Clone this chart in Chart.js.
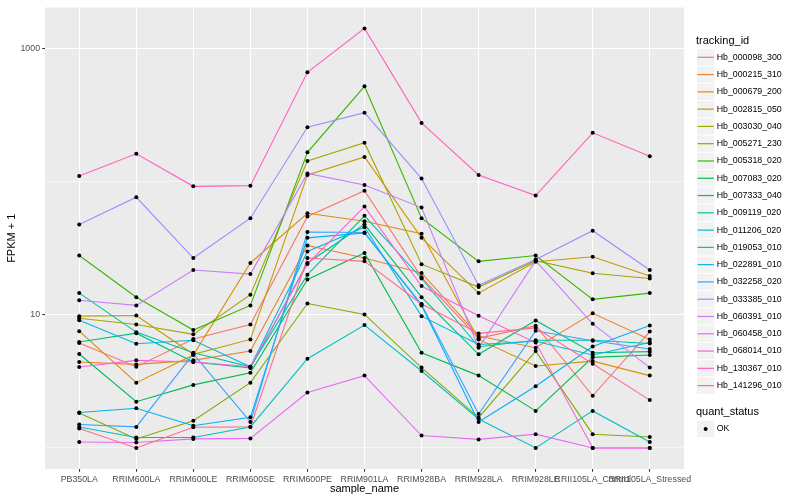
<!DOCTYPE html>
<html>
<head>
<meta charset="utf-8">
<script src="https://cdn.jsdelivr.net/npm/chart.js@4/dist/chart.umd.min.js"></script>
<style>
html, body { margin: 0; padding: 0; background: #fff; }
</style>
</head>
<body>
<canvas id="fpkmChart" width="800" height="500"></canvas>
<script>
// sample names (x axis)
var samples = ['PB350LA', 'RRIM600LA', 'RRIM600LE', 'RRIM600SE', 'RRIM600PE', 'RRIM901LA',
               'RRIM928BA', 'RRIM928LA', 'RRIM928LE', 'RRII105LA_Control', 'RRII105LA_Stressed'];

// FPKM + 1 per gene, one value per sample
var hb000098 = [6.15, 4.08, 6.6, 8.49, 55, 86, 19.2, 6.67, 8.3, 2.47, 7.5];
var hb000215 = [4.43, 4.25, 4.56, 5.35, 33.3, 26.8, 20.7, 6.95, 5.67, 10.3, 6.55];
var hb000679 = [7.56, 3.10, 5.0, 24.6, 58.2, 50.7, 40.8, 6.55, 4.13, 4.5, 3.5];
var hb002815 = [9.8, 9.9, 5.06, 6.55, 113, 154, 38, 14.6, 25.1, 27.4, 19.6];
var hb003030 = [9.46, 8.49, 7.15, 14.2, 144, 197, 24.1, 16.2, 25.6, 20.6, 18.8];
var hb005271 = [1.83, 1.17, 1.6, 3.10, 12.2, 10.1, 4.02, 1.69, 5.35, 1.27, 1.21];
var hb005318 = [28.0, 13.6, 7.7, 11.8, 167, 524, 53.4, 25.3, 28, 13.1, 14.6];
var hb007083 = [5.09, 2.23, 2.98, 3.68, 18.5, 29.2, 5.2, 3.50, 1.90, 4.8, 5.0];
var hb007333 = [6.26, 7.3, 4.43, 4.0, 24.6, 48, 13.6, 5.06, 9.1, 5.2, 5.3];
var hb009119 = [14.6, 7.43, 5.2, 4.08, 20.1, 55.6, 18.8, 5.77, 6.45, 6.45, 6.1];
var hb011206 = [1.44, 1.20, 1.20, 1.44, 4.69, 8.39, 3.79, 1.65, 1.0, 1.90, 1.11];
var hb019053 = [9.14, 6.08, 6.45, 4.08, 30, 45.7, 9.8, 6.0, 6.35, 5.0, 6.2];
var hb022891 = [1.85, 1.99, 1.47, 1.70, 38, 41.4, 11.8, 1.57, 2.91, 5.8, 8.33];
var hb032258 = [1.50, 1.44, 5.09, 1.57, 42, 41.7, 12.0, 1.80, 7.6, 6.4, 5.55];
var hb033385 = [47.9, 76.7, 26.8, 53.4, 258, 332, 106, 16.7, 26.1, 43, 21.8];
var hb060391 = [12.9, 11.8, 21.8, 20.3, 116, 95, 64.2, 5.67, 25.6, 8.58, 4.02];
var hb060458 = [1.11, 1.10, 1.17, 1.18, 2.61, 3.50, 1.24, 1.16, 1.27, 1.0, 1.0];
var hb068014 = [4.06, 4.56, 4.43, 4.08, 24.2, 65.3, 16.5, 9.85, 6.2, 1.0, 1.0];
var hb130367 = [111, 163, 92.7, 93.8, 667, 1427, 278, 113, 79, 234, 156];
var hb141296 = [1.40, 1.0, 1.43, 1.44, 26.8, 25.3, 12.1, 7.27, 8.0, 4.3, 2.29];

var trackingIds = ['Hb_000098_300', 'Hb_000215_310', 'Hb_000679_200', 'Hb_002815_050', 'Hb_003030_040',
                   'Hb_005271_230', 'Hb_005318_020', 'Hb_007083_020', 'Hb_007333_040', 'Hb_009119_020',
                   'Hb_011206_020', 'Hb_019053_010', 'Hb_022891_010', 'Hb_032258_020', 'Hb_033385_010',
                   'Hb_060391_010', 'Hb_060458_010', 'Hb_068014_010', 'Hb_130367_010', 'Hb_141296_010'];
var seriesValues = [hb000098, hb000215, hb000679, hb002815, hb003030, hb005271, hb005318, hb007083,
                    hb007333, hb009119, hb011206, hb019053, hb022891, hb032258, hb033385, hb060391,
                    hb060458, hb068014, hb130367, hb141296];

// y axis: grid at every decade, labels only on 10 and 1000
var yGrid = [1, 10, 100, 1000];
var yLabels = [10, 1000];

// ggplot hue palette, 20 levels
var palette = ['#F8766D', '#EA8331', '#D89000', '#C09B00', '#A3A500', '#7CAE00', '#39B600', '#00BB4E',
               '#00BF7D', '#00C1A3', '#00BFC4', '#00BAE0', '#00B0F6', '#35A2FF', '#9590FF', '#C77CFF',
               '#E76BF3', '#FA62DB', '#FF62BC', '#FF6C91'];

var FONT = '"Liberation Sans", Arial, sans-serif';

function toPoints(vals) {
    return vals.map(function(v, i) { return { x: i + 1, y: v }; });
}

var datasets = [];
seriesValues.forEach(function(vals, i) {
    datasets.push({
        label: trackingIds[i],
        data: toPoints(vals),
        borderColor: palette[i],
        backgroundColor: palette[i],
        borderWidth: 1.1,
        pointRadius: 0,
        tension: 0,
        order: 1 + (seriesValues.length - i)
    });
});
// points on top of every line, like geom_point after geom_line
seriesValues.forEach(function(vals, i) {
    datasets.push({
        label: trackingIds[i] + ' OK',
        data: toPoints(vals),
        showLine: false,
        pointRadius: 2,
        pointBackgroundColor: '#000000',
        pointBorderWidth: 0,
        order: 0
    });
});

var panelBg = {
    id: 'panelBg',
    beforeDraw: function(chart) {
        var ctx = chart.ctx, a = chart.chartArea;
        ctx.save();
        ctx.fillStyle = '#FFFFFF';
        ctx.fillRect(0, 0, chart.width, chart.height);
        ctx.fillStyle = '#EBEBEB';
        ctx.fillRect(a.left, a.top, a.right - a.left, a.bottom - a.top);
        ctx.restore();
    }
};

var ggLegend = {
    id: 'ggLegend',
    afterDraw: function(chart) {
        var ctx = chart.ctx;
        var keyX = 697, keyW = 17.3, rowH = 17.28, textX = 716.7;
        ctx.save();
        ctx.textBaseline = 'middle';
        ctx.textAlign = 'left';
        ctx.fillStyle = '#000000';
        ctx.font = '11px ' + FONT;
        ctx.fillText('tracking_id', 696, 41);
        ctx.font = '8.8px ' + FONT;
        trackingIds.forEach(function(id, i) {
            var cy = 57.3 + i * rowH;
            ctx.fillStyle = '#F2F2F2';
            ctx.fillRect(keyX, cy - rowH / 2 + 0.5, keyW, rowH - 1);
            ctx.strokeStyle = palette[i];
            ctx.lineWidth = 1.2;
            ctx.beginPath();
            ctx.moveTo(keyX + 0.5, cy);
            ctx.lineTo(keyX + keyW - 0.5, cy);
            ctx.stroke();
            ctx.fillStyle = '#000000';
            ctx.fillText(id, textX, cy);
        });
        ctx.font = '11px ' + FONT;
        ctx.fillText('quant_status', 696, 411.7);
        var okY = 429;
        ctx.fillStyle = '#F2F2F2';
        ctx.fillRect(keyX, okY - rowH / 2 + 0.5, keyW, rowH - 1);
        ctx.fillStyle = '#000000';
        ctx.beginPath();
        ctx.arc(keyX + keyW / 2, okY, 2, 0, Math.PI * 2);
        ctx.fill();
        ctx.font = '8.8px ' + FONT;
        ctx.fillText('OK', textX, okY);
        ctx.restore();
    }
};

var ctx = document.getElementById('fpkmChart').getContext('2d');
var fpkmChart = new Chart(ctx, {
    type: 'line',
    data: { datasets: datasets },
    plugins: [panelBg, ggLegend],
    options: {
        responsive: false,
        animation: false,
        devicePixelRatio: 1,
        layout: { padding: { left: 0, right: 116, top: 5, bottom: 0 } },
        plugins: { legend: { display: false }, tooltip: { enabled: false } },
        scales: {
            x: {
                type: 'linear',
                min: 0.4,
                max: samples.length + 0.6,
                afterBuildTicks: function(s) {
                    s.ticks = samples.map(function(_, i) { return { value: i + 1 }; });
                },
                afterFit: function(s) { s.height = 31; },
                ticks: {
                    autoSkip: false, maxRotation: 0, minRotation: 0, padding: 2.2,
                    color: '#4D4D4D', font: { size: 8.8, family: FONT },
                    callback: function(v) { return samples[Math.round(v) - 1]; }
                },
                grid: { color: '#FFFFFF', lineWidth: 1.07, tickColor: '#333333', tickLength: 2.75, tickWidth: 1.07 },
                border: { display: false },
                title: { display: true, text: 'sample_name', color: '#000000',
                         font: { size: 11, family: FONT }, padding: { top: 0, bottom: 4.7 } }
            },
            y: {
                type: 'logarithmic',
                min: 0.695,
                max: 2050,
                afterBuildTicks: function(s) {
                    s.ticks = yGrid.map(function(v) { return { value: v }; });
                },
                afterFit: function(s) { s.width = 45; },
                ticks: {
                    autoSkip: false, padding: 2.2, color: '#4D4D4D', font: { size: 8.8, family: FONT },
                    callback: function(v) { return yLabels.indexOf(v) >= 0 ? String(v) : ''; }
                },
                grid: {
                    color: '#FFFFFF',
                    lineWidth: function(c) { return c.tick && yLabels.indexOf(c.tick.value) >= 0 ? 1.07 : 0.53; },
                    tickColor: function(c) { return c.tick && yLabels.indexOf(c.tick.value) >= 0 ? '#333333' : 'rgba(0,0,0,0)'; },
                    tickLength: 2.75,
                    tickWidth: 1.07
                },
                border: { display: false },
                title: { display: true, text: 'FPKM + 1', color: '#000000',
                         font: { size: 11, family: FONT }, padding: { top: 5.4, bottom: 0 } }
            }
        }
    }
});
</script>
</body>
</html>
